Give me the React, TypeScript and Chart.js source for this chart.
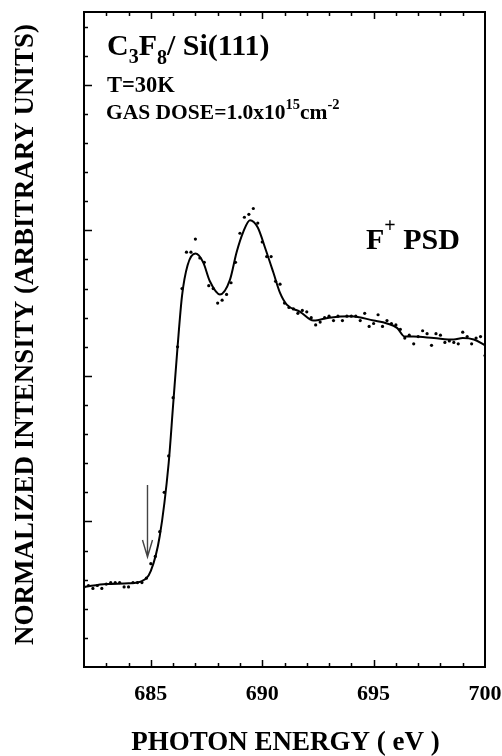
import React, { useEffect, useRef } from "react";
import { Chart, registerables } from "chart.js";

Chart.register(...registerables);

// Measured points (photon energy in eV, normalized intensity)
const ENERGY_PTS = [
  682, 682.2, 682.4, 682.6, 682.8, 683, 683.2, 683.4, 683.6, 683.8, 684, 684.2, 684.4, 684.6, 684.8,
  685, 685.2, 685.4, 685.6, 685.8, 686, 686.2, 686.4, 686.6, 686.8, 687, 687.2, 687.4, 687.6, 687.8,
  688, 688.2, 688.4, 688.6, 688.8, 689, 689.2, 689.4, 689.6, 689.8, 690, 690.2, 690.4, 690.6, 690.8,
  691, 691.2, 691.4, 691.6, 691.8, 692, 692.2, 692.4, 692.6, 692.8, 693, 693.2, 693.4, 693.6, 693.8,
  694, 694.2, 694.4, 694.6, 694.8, 695, 695.2, 695.4, 695.6, 695.8, 696, 696.2, 696.4, 696.6, 696.8,
  697, 697.2, 697.4, 697.6, 697.8, 698, 698.2, 698.4, 698.6, 698.8, 699, 699.2, 699.4, 699.6, 699.8, 700,
];
const INTENSITY_PTS = [
  0.55, 0.56, 0.54, 0.56, 0.54, 0.57, 0.58, 0.58, 0.58, 0.55, 0.55, 0.58, 0.58, 0.58, 0.61,
  0.71, 0.76, 0.93, 1.2, 1.45, 1.85, 2.2, 2.6, 2.85, 2.85, 2.94, 2.81, 2.78, 2.62, 2.6,
  2.5, 2.52, 2.56, 2.64, 2.78, 2.98, 3.09, 3.11, 3.15, 3.05, 2.92, 2.82, 2.82, 2.65, 2.63,
  2.5, 2.47, 2.46, 2.43, 2.45, 2.44, 2.4, 2.35, 2.37, 2.4, 2.41, 2.38, 2.41, 2.38, 2.41,
  2.41, 2.41, 2.38, 2.43, 2.34, 2.36, 2.42, 2.34, 2.38, 2.36, 2.35, 2.32, 2.26, 2.28, 2.22,
  2.27, 2.31, 2.29, 2.21, 2.29, 2.28, 2.23, 2.24, 2.23, 2.22, 2.3, 2.27, 2.22, 2.26, 2.27, 2.14,
];

// Smoothed fit curve
const FIT_ENERGY = [
  682, 683, 684, 684.6, 685, 685.4, 685.8, 686, 686.2, 686.4, 686.65, 687, 687.35, 687.65, 688.1,
  688.55, 688.85, 689.15, 689.45, 689.8, 690.15, 690.5, 690.8, 691.1, 691.7, 692.3, 693, 694, 695,
  695.6, 696.05, 696.4, 696.8, 697.7, 698.6, 699, 699.5, 700,
];
const FIT_INTENSITY = [
  0.55, 0.57, 0.575, 0.59, 0.66, 0.9, 1.4, 1.8, 2.2, 2.55, 2.76, 2.84, 2.78, 2.65, 2.56,
  2.66, 2.85, 2.99, 3.07, 3.02, 2.87, 2.71, 2.57, 2.49, 2.44, 2.38, 2.4, 2.41, 2.38,
  2.36, 2.33, 2.27, 2.27, 2.26, 2.25, 2.26, 2.25, 2.21,
];

// Axes
const X_MIN = 682;
const X_MAX = 700;
const Y_MIN = 0;
const Y_MAX = 4.5;
const X_TICK_LABELS = [685, 690, 695, 700];
const X_MINOR_TICKS = [683, 684, 685, 686, 687, 688, 689, 690, 691, 692, 693, 694, 695, 696, 697, 698, 699];
const Y_MAJOR_TICKS = [1, 2, 3, 4];
const Y_MINOR_TICKS = [
  0.2, 0.4, 0.6, 0.8, 1, 1.2, 1.4, 1.6, 1.8, 2, 2.2, 2.4, 2.6, 2.8, 3, 3.2, 3.4, 3.6, 3.8, 4, 4.2, 4.4,
];

// Onset arrow (energy, top, tip)
const ARROW_X = 684.85;
const ARROW_TOP = 1.25;
const ARROW_TIP = 0.756;

const X_TITLE = "PHOTON ENERGY ( eV )";
const Y_TITLE = "NORMALIZED INTENSITY (ARBITRARY UNITS)";

const FONT = '"Liberation Serif", "Times New Roman", serif';

type Part = { t: string; size: number; dy?: number };

function drawRich(ctx: CanvasRenderingContext2D, parts: Part[], x: number, y: number) {
  let cx = x;
  for (const p of parts) {
    ctx.font = `bold ${p.size}px ${FONT}`;
    ctx.fillText(p.t, cx, y + (p.dy || 0));
    cx += ctx.measureText(p.t).width;
  }
}

const decorPlugin = {
  id: "decor",
  afterDatasetsDraw(chart: any) {
    const { ctx, chartArea: a, scales } = chart;
    const xs = scales.x;
    const ys = scales.y;
    ctx.save();
    ctx.strokeStyle = "#000";
    ctx.lineWidth = 1.5;
    ctx.beginPath();
    for (const v of X_MINOR_TICKS) {
      const px = Math.round(xs.getPixelForValue(v)) + 0.5;
      const len = X_TICK_LABELS.includes(v) ? 7 : 4;
      ctx.moveTo(px, a.bottom);
      ctx.lineTo(px, a.bottom - len);
      ctx.moveTo(px, a.top);
      ctx.lineTo(px, a.top + len);
    }
    for (const v of Y_MINOR_TICKS) {
      const py = Math.round(ys.getPixelForValue(v)) + 0.5;
      const len = Y_MAJOR_TICKS.includes(v) ? 8 : 4;
      ctx.moveTo(a.left, py);
      ctx.lineTo(a.left + len, py);
    }
    ctx.stroke();
    ctx.lineWidth = 2;
    ctx.strokeRect(a.left, a.top, a.right - a.left, a.bottom - a.top);

    // arrow
    const ax = xs.getPixelForValue(ARROW_X);
    const at = ys.getPixelForValue(ARROW_TOP);
    const ab = ys.getPixelForValue(ARROW_TIP);
    ctx.strokeStyle = "#444";
    ctx.lineWidth = 1.4;
    ctx.beginPath();
    ctx.moveTo(ax, at);
    ctx.lineTo(ax, ab);
    ctx.moveTo(ax - 5, ab - 17);
    ctx.lineTo(ax, ab);
    ctx.lineTo(ax + 5, ab - 17);
    ctx.stroke();

    // annotations
    ctx.fillStyle = "#000";
    ctx.textAlign = "left";
    ctx.textBaseline = "alphabetic";
    drawRich(ctx, [
      { t: "C", size: 30 },
      { t: "3", size: 20, dy: 8 },
      { t: "F", size: 30 },
      { t: "8", size: 20, dy: 9 },
      { t: "/ Si(111)", size: 30 },
    ], 107, 55);
    drawRich(ctx, [{ t: "T=30K", size: 22.5 }], 107, 92);
    drawRich(ctx, [
      { t: "GAS DOSE=1.0x10", size: 21.5 },
      { t: "15", size: 14.5, dy: -10 },
      { t: "cm", size: 21.5 },
      { t: "-2", size: 14.5, dy: -10 },
    ], 106, 119);
    drawRich(ctx, [
      { t: "F", size: 30 },
      { t: "+", size: 20, dy: -17 },
      { t: " PSD", size: 30 },
    ], 366, 249);

    // axis titles
    ctx.font = `bold 27px ${FONT}`;
    ctx.textAlign = "center";
    ctx.fillText(X_TITLE, 285.5, 750);
    ctx.translate(33, 334.5);
    ctx.rotate(-Math.PI / 2);
    ctx.fillText(Y_TITLE, 0, 0);
    ctx.restore();
  },
};

export default function App() {
  const ref = useRef<HTMLCanvasElement | null>(null);
  useEffect(() => {
    if (!ref.current) return;
    const chart = new Chart(ref.current, {
      type: "scatter",
      data: {
        datasets: [
          {
            label: "fit",
            data: FIT_ENERGY.map((x, i) => ({ x, y: FIT_INTENSITY[i] })),
            showLine: true,
            borderColor: "#000",
            backgroundColor: "#000",
            borderWidth: 2,
            pointRadius: 0,
            cubicInterpolationMode: "monotone",
          } as any,
          {
            label: "data",
            data: ENERGY_PTS.map((x, i) => ({ x, y: INTENSITY_PTS[i] })),
            showLine: false,
            pointRadius: 1.6,
            pointBorderWidth: 0,
            pointBackgroundColor: "#000",
            backgroundColor: "#000",
            borderColor: "#000",
          } as any,
        ],
      },
      options: {
        responsive: false,
        animation: false,
        layout: { padding: { left: 84, top: 12, right: 17, bottom: 0 } },
        plugins: { legend: { display: false }, tooltip: { enabled: false } },
        scales: {
          x: {
            type: "linear",
            min: X_MIN,
            max: X_MAX,
            grid: { display: false, drawTicks: false },
            border: { display: false },
            afterBuildTicks: (s: any) => {
              s.ticks = X_TICK_LABELS.map((v) => ({ value: v }));
            },
            afterFit: (s: any) => {
              s.height = 89;
              s.paddingLeft = 0;
              s.paddingRight = 0;
            },
            ticks: {
              color: "#000",
              padding: 14,
              maxRotation: 0,
              autoSkip: false,
              font: { family: FONT, size: 22, weight: "bold" },
            },
          },
          y: {
            type: "linear",
            min: Y_MIN,
            max: Y_MAX,
            grid: { display: false, drawTicks: false },
            border: { display: false },
            ticks: { display: false },
            afterFit: (s: any) => {
              s.width = 0;
              s.paddingTop = 0;
              s.paddingBottom = 0;
            },
          },
        },
      } as any,
      plugins: [decorPlugin],
    });
    return () => chart.destroy();
  }, []);
  return (
    <canvas
      ref={ref}
      width={502}
      height={756}
      style={{ position: "absolute", left: 0, top: 0, width: 502, height: 756, display: "block" }}
    />
  );
}
